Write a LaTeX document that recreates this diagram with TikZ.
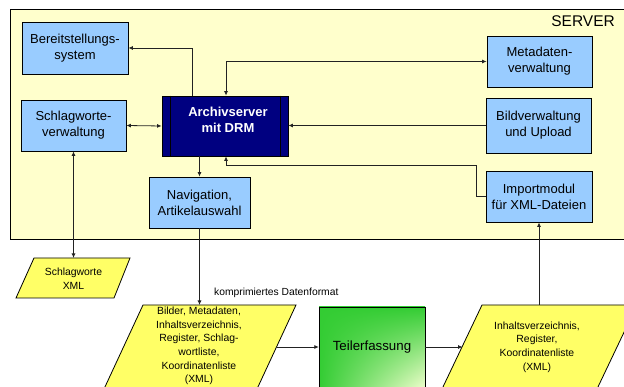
\documentclass[tikz,border=0pt]{standalone}
\usepackage{fontspec}
\setmainfont{Liberation Sans}
\usetikzlibrary{arrows.meta,calc,shadings}
\definecolor{srvfill}{HTML}{FFFFCC}
\definecolor{boxfill}{HTML}{99CCFF}
\definecolor{navy}{HTML}{000080}
\definecolor{parafill}{HTML}{FFFF66}
\definecolor{grn}{HTML}{33CC33}
\definecolor{grnlight}{HTML}{F4FFD0}
\definecolor{linec}{HTML}{222222}
\tikzset{
  bluebox/.style={draw=black, line width=0.8pt, fill=boxfill, align=center,
    font=\fontsize{13}{16}\selectfont, inner sep=0pt},
  para/.style={draw=black, line width=0.8pt, fill=parafill},
  ptext/.style={align=center, font=\fontsize{10.4}{13.7}\selectfont, inner sep=0pt},
  conn/.style={draw=linec, line width=0.8pt, -{Latex[length=4.5pt,width=4pt]}},
  conn2/.style={draw=linec, line width=0.8pt, {Latex[length=4.5pt,width=4pt]}-{Latex[length=4.5pt,width=4pt]}},
}
\begin{document}
\begin{tikzpicture}[x=1pt,y=-1pt]
\useasboundingbox (0,0) rectangle (624,387);
% server area
\draw[fill=srvfill, line width=0.8pt] (10,9) rectangle (640,239);
\node[anchor=east, font=\fontsize{15.5}{18}\selectfont, inner sep=0pt] (srv) at (615,21) {SERVER};

% boxes
\node[bluebox, minimum width=106pt, minimum height=52pt] (bereit) at (75,48) {Bereitstellungs-\\system};
\node[bluebox, minimum width=105pt, minimum height=51pt] (schlag) at (73.5,125.5) {Schlagworte-\\verwaltung};
\node[draw=black, line width=0.8pt, fill=navy, minimum width=126pt, minimum height=60pt, inner sep=0pt] (archiv) at (225,126) {};
\node[text=white, align=center, font=\bfseries\fontsize{13}{16}\selectfont, inner sep=0pt] (archivt) at (228,119.5) {Archivserver\\mit DRM};
\draw[black, line width=0.8pt] ([xshift=9pt]archiv.north west) -- ([xshift=9pt]archiv.south west);
\draw[black, line width=0.8pt] ([xshift=-8pt]archiv.north east) -- ([xshift=-8pt]archiv.south east);
\node[bluebox, minimum width=101pt, minimum height=51pt] (nav) at (199.5,202.5) {Navigation,\\Artikelauswahl};
\node[bluebox, minimum width=105pt, minimum height=51pt] (meta) at (539.5,61.5) {Metadaten-\\verwaltung};
\node[bluebox, minimum width=105pt, minimum height=55pt] (bild) at (538.5,125.5) {Bildverwaltung\\und Upload};
\node[bluebox, minimum width=106pt, minimum height=51pt] (import) at (539,196.5) {Importmodul\\für XML-Dateien};

% parallelograms
\draw[para] (34,258) -- (130,258) -- (114,298) -- (16,298) -- cycle;
\node[ptext] (sxml) at (73.5,278.5) {Schlagworte\\XML};
\coordinate (sxmltop) at (73.5,258);

\draw[para] (143,305) -- (296,305) -- (257,389) -- (104,389) -- cycle;
\node[ptext] (bilder) at (199,346) {Bilder, Metadaten,\\Inhaltsverzeichnis,\\Register, Schlag-\\wortliste,\\Koordinatenliste\\(XML)};
\coordinate (bildertop) at (199.5,305);
\coordinate (bilderright) at (277,347);

% Teilerfassung box with green gradient
\shade[upper left=grn, upper right=grn, lower left=grn, lower right=grnlight] (319,307) rectangle (425,390);
\draw[black, line width=0.8pt] (319,392) -- (319,307) -- (425,307) -- (425,392);
\node[inner sep=0pt, minimum width=106pt, minimum height=82pt, font=\fontsize{13.3}{16}\selectfont] (teil) at (372,347) {Teilerfassung};

\draw[para] (482,305) -- (637,305) -- (597,389) -- (442,389) -- cycle;
\node[ptext] (inhalt) at (537,347) {Inhaltsverzeichnis,\\Register,\\Koordinatenliste\\(XML)};
\coordinate (inhaltleft) at (462.5,347);
\coordinate (inhalttop) at (539,305);

\node[anchor=west, font=\fontsize{10.3}{12}\selectfont, inner sep=0pt] (komp) at (214,293) {komprimiertes Datenformat};

% connectors
\draw[conn] ([xshift=-33pt]archiv.north) |- (bereit.east);
\draw[conn2] ([xshift=1pt]archiv.north) |- (meta.west);
\draw[conn2] (schlag.east) -- (archiv.west);
\draw[conn] (bild.west) -- (bild.west -| archiv.east);
\draw[conn] (import.west) -- ++(-9,0) -- ++(0,-31) -| ([xshift=1pt]archiv.south);
\draw[conn] (archiv.south -| nav.north) -- (nav.north);
\draw[conn2] (schlag.south) -- (sxmltop);
\draw[conn] (nav.south) -- (bildertop);
\draw[conn] (bilderright) -- (bilderright -| teil.west);
\draw[conn] (bilderright -| teil.east) -- (inhaltleft);
\draw[conn] (inhalttop) -- (inhalttop |- import.south);
\end{tikzpicture}
\end{document}
